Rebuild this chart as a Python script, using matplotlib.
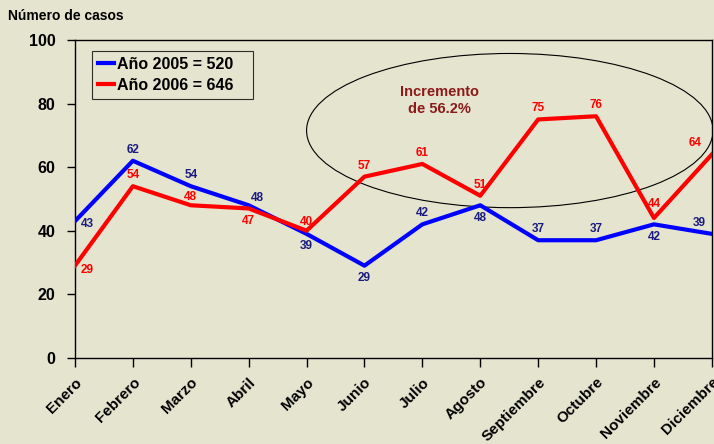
import matplotlib
matplotlib.use('agg')
import matplotlib.pyplot as plt
import matplotlib.patches as mpatches

plt.rcParams['font.family'] = ['Liberation Sans', 'DejaVu Sans']
plt.rcParams['font.weight'] = 'bold'

meses = ['Enero', 'Febrero', 'Marzo', 'Abril', 'Mayo', 'Junio', 'Julio',
         'Agosto', 'Septiembre', 'Octubre', 'Noviembre', 'Diciembre']
casos_2005 = [43, 62, 54, 48, 39, 29, 42, 48, 37, 37, 42, 39]
casos_2006 = [29, 54, 48, 47, 40, 57, 61, 51, 75, 76, 44, 64]
# label offsets (points) for each value label
off_2005 = [(9, -2), (0, 8), (0, 8), (6, 5), (0, -9), (0, -9), (0, 8), (0, -9), (0, 8), (0, 8), (0, -9), (-9, 8)]
off_2006 = [(9, -3), (0, 8), (0, 6), (0, -9), (0, 6), (0, 8), (0, 8), (0, 8), (0, 8), (0, 8), (0, 10), (-12, 8)]

bg = '#E5E4CF'
fig = plt.figure(figsize=(7.14, 4.44), dpi=100, facecolor=bg)
ax = fig.add_axes([0.105, 0.194, 0.892, 0.716], facecolor=bg)

x = list(range(len(meses)))
ax.plot(x, casos_2005, color='#0000FF', lw=3, label='Año 2005 = 520', zorder=3)
ax.plot(x, casos_2006, color='#FF0000', lw=3, label='Año 2006 = 646', zorder=3)

for i, v in enumerate(casos_2005):
    ax.annotate(str(v), (i, v), xytext=off_2005[i], textcoords='offset points',
                ha='center', va='center', fontsize=8.5, fontweight='bold', color='#1A1A80', zorder=4)
for i, v in enumerate(casos_2006):
    ax.annotate(str(v), (i, v), xytext=off_2006[i], textcoords='offset points',
                ha='center', va='center', fontsize=8.5, fontweight='bold', color='#FF0000', zorder=4)

ellipse = mpatches.Ellipse((7.51, 71.5), 7.02, 48.5, fill=False, edgecolor='black', lw=0.8, zorder=2)
ax.add_patch(ellipse)
ax.text(6.3, 81, 'Incremento\nde 56.2%', ha='center', va='center', fontsize=10.5,
        fontweight='bold', color='#8B1A1A', linespacing=1.25)

ax.set_xlim(0, 11)
ax.set_ylim(0, 100)
ax.set_yticks([0, 20, 40, 60, 80, 100])
ax.set_xticks(x)
ax.set_xticklabels(meses, rotation=45, ha='right', rotation_mode='anchor', fontsize=11, fontweight='bold')
ax.tick_params(axis='y', labelsize=11.5, length=6, width=1, pad=8)
ax.tick_params(axis='x', length=6.5, width=1, pad=6)
for s in ax.spines.values():
    s.set_linewidth(1)

leg = ax.legend(loc='upper left', bbox_to_anchor=(0.027, 0.965, 0.253, 0), mode='expand',
                borderaxespad=0, frameon=True, fancybox=False, edgecolor='black', facecolor=bg,
                handlelength=1.0, handletextpad=0.2, borderpad=0.35, labelspacing=0.4,
                prop={'weight': 'bold', 'size': 11.5})
leg.get_frame().set_linewidth(0.8)

fig.text(0.011, 0.965, 'Número de casos', fontsize=10, fontweight='bold', ha='left', va='center')

fig.savefig('out.png', dpi=100, facecolor=bg)
